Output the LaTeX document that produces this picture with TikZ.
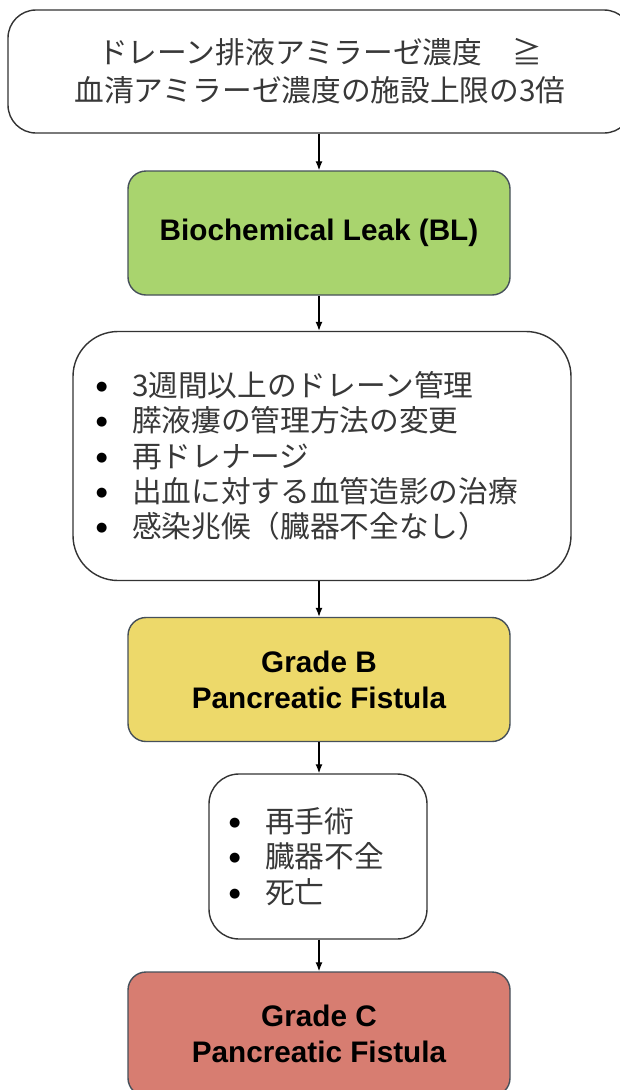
\documentclass[tikz,border=0pt]{standalone}
\usepackage{fontspec}
\setmainfont{Liberation Sans}
\newfontfamily\jp{Noto Sans CJK JP}
\newfontfamily\dejavu{DejaVu Sans}
\usetikzlibrary{arrows.meta}
\definecolor{gfill}{HTML}{A9D46E}
\definecolor{yfill}{HTML}{EDD96A}
\definecolor{rfill}{HTML}{D77D71}
\definecolor{cborder}{HTML}{46505A}
\definecolor{jtext}{HTML}{383838}
\newcommand{\bul}{\makebox[37pt][l]{\hspace{1pt}\raisebox{6pt}{\color{black}\dejavu\fontsize{13}{13}\selectfont ●}}}
\tikzset{
  whitebox/.style={draw=black!80, line width=1.4pt, fill=white, inner sep=0pt, font=\jp\fontsize{29.7}{38}\selectfont, text=jtext},
  gradebox/.style={draw=cborder, line width=1.4pt, rounded corners=18pt, minimum width=382pt, minimum height=124pt, inner sep=0pt, align=center, font=\bfseries\fontsize{29.7}{36}\selectfont},
  arr/.style={line width=1.3pt, -{Latex[length=9pt,width=7pt]}}
}
\begin{document}
\begin{tikzpicture}[x=1pt,y=-1pt]
\useasboundingbox (0,0) rectangle (620,1090);
\fill[white] (0,0) rectangle (620,1090);

\node[whitebox, rounded corners=28pt, minimum width=624pt, minimum height=123pt, align=center] (top) at (320,71.5)
  {ドレーン排液アミラーゼ濃度　≧\\血清アミラーゼ濃度の施設上限の3倍};

\node[gradebox, fill=gfill] (bl) at (319,233) {Biochemical Leak (BL)};

\node[whitebox, rounded corners=45pt, minimum height=249pt, text width=454pt, inner xsep=22pt, align=left, font=\jp\fontsize{29.7}{35.3}\selectfont] (crit) at (322,456)
  {\bul 3週間以上のドレーン管理\\
   \bul 膵液瘻の管理方法の変更\\
   \bul 再ドレナージ\\
   \bul 出血に対する血管造影の治療\\
   \bul 感染兆候（臓器不全なし）};

\node[gradebox, fill=yfill] (gb) at (319,679.5) {Grade B\\Pancreatic Fistula};

\node[whitebox, rounded corners=30pt, minimum height=165pt, text width=180pt, inner xsep=19pt, align=left, font=\jp\fontsize{29.7}{35.5}\selectfont] (sev) at (318,856.5)
  {\bul 再手術\\
   \bul 臓器不全\\
   \bul 死亡};

\node[gradebox, fill=rfill] (gc) at (319,1034) {Grade C\\Pancreatic Fistula};

\draw[arr] (top.south -| bl.north) -- (bl.north);
\draw[arr] (bl.south) -- (bl.south |- crit.north);
\draw[arr] (gb.north |- crit.south) -- (gb.north);
\draw[arr] (gb.south) -- (gb.south |- sev.north);
\draw[arr] (gc.north |- sev.south) -- (gc.north);
\end{tikzpicture}
\end{document}
